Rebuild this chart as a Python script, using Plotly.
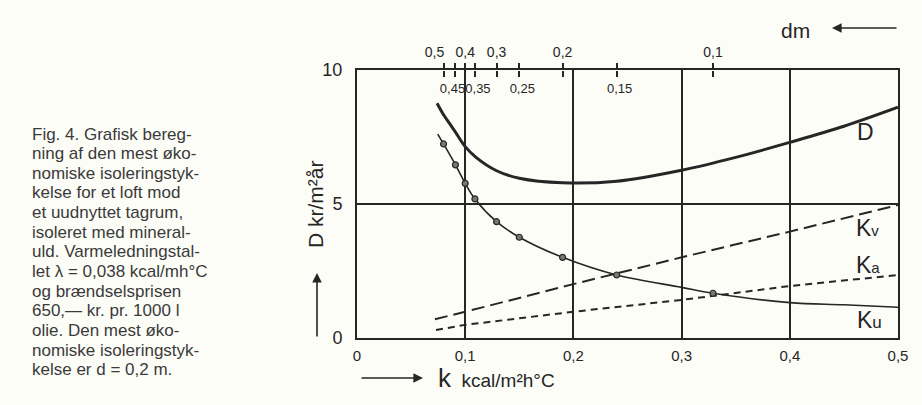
import plotly.graph_objects as go

# ---------------- data ----------------
k_ticks = [0, 0.1, 0.2, 0.3, 0.4, 0.5]
k_tick_labels = ["0", "0,1", "0,2", "0,3", "0,4", "0,5"]
y_ticks = [0, 5, 10]
y_tick_labels = ["0", "5", "10"]

# insulation thickness d (top axis) and corresponding k positions
d_labels = ["0,5", "0,45", "0,4", "0,35", "0,3", "0,25", "0,2", "0,15", "0,1"]
d_label_above = [True, False, True, False, True, False, True, False, True]
k_at_d = [0.080, 0.091, 0.100, 0.109, 0.129, 0.150, 0.190, 0.240, 0.329]
ku_at_d = [7.24, 6.46, 5.77, 5.19, 4.34, 3.76, 3.01, 2.35, 1.67]

ku_k = [0.0746, 0.080, 0.091, 0.100, 0.109, 0.129, 0.150, 0.190, 0.240, 0.300, 0.329, 0.400, 0.450, 0.500]
ku_v = [7.61, 7.24, 6.46, 5.77, 5.19, 4.34, 3.76, 3.01, 2.35, 1.89, 1.67, 1.32, 1.24, 1.15]

d_k = [0.074, 0.080, 0.086, 0.091, 0.100, 0.110, 0.129, 0.150, 0.190, 0.240, 0.300, 0.350, 0.400, 0.450, 0.500]
d_v = [8.76, 8.33, 7.98, 7.68, 7.14, 6.74, 6.24, 5.96, 5.79, 5.85, 6.26, 6.74, 7.30, 7.90, 8.61]

kv_k = [0.072, 0.1, 0.2, 0.3, 0.4, 0.5]
kv_v = [0.70, 0.98, 2.01, 3.01, 3.97, 4.96]

ka_k = [0.073, 0.1, 0.2, 0.3, 0.4, 0.5]
ka_v = [0.30, 0.49, 0.98, 1.42, 1.94, 2.35]

curve_labels = ["D", "K<span style='font-size:15px'>v</span>",
                "K<span style='font-size:15px'>a</span>", "K<span style='font-size:17px'>u</span>"]
curve_label_k = [0.4695, 0.472, 0.472, 0.474]
curve_label_v = [7.69, 4.10, 2.72, 0.67]

caption_lines = [
    "Fig. 4. Grafisk bereg-",
    "ning af den mest øko-",
    "nomiske isoleringstyk-",
    "kelse for et loft mod",
    "et uudnyttet tagrum,",
    "isoleret med mineral-",
    "uld. Varmeledningstal-",
    "let λ = 0,038 kcal/mh°C",
    "og brændselsprisen",
    "650,— kr. pr. 1000 l",
    "olie. Den mest øko-",
    "nomiske isoleringstyk-",
    "kelse er d = 0,2 m.",
]

# ---------------- styling ----------------
ink = "#262626"
bg = "#fdfdf8"
font_family = "Liberation Sans, Arial, sans-serif"
narrow_family = "Liberation Sans Narrow, Liberation Sans, Arial, sans-serif"

fig = go.Figure()

fig.add_trace(go.Scatter(x=kv_k, y=kv_v, mode="lines",
                         line=dict(color=ink, width=2, dash="13px,6px"), hoverinfo="skip"))
fig.add_trace(go.Scatter(x=ka_k, y=ka_v, mode="lines",
                         line=dict(color=ink, width=2, dash="7px,5px"), hoverinfo="skip"))
fig.add_trace(go.Scatter(x=ku_k, y=ku_v, mode="lines", line_shape="spline",
                         line=dict(color=ink, width=1.6), hoverinfo="skip"))
fig.add_trace(go.Scatter(x=d_k, y=d_v, mode="lines", line_shape="spline",
                         line=dict(color=ink, width=3), hoverinfo="skip"))
fig.add_trace(go.Scatter(x=k_at_d, y=ku_at_d, mode="markers", xaxis="x2",
                         marker=dict(size=6, color="#777", line=dict(color=ink, width=1.2)),
                         hoverinfo="skip"))
# invisible carriers so the extra label axes get drawn
for ax_id in ["x3", "x4", "x5"]:
    fig.add_trace(go.Scatter(x=k_at_d, y=ku_at_d, mode="markers", xaxis=ax_id,
                             marker=dict(size=1, color="rgba(0,0,0,0)"), hoverinfo="skip"))

annotations = []
for txt, kx, vy in zip(curve_labels, curve_label_k, curve_label_v):
    annotations.append(dict(x=kx, y=vy, xref="x", yref="y", text=txt, showarrow=False,
                            xanchor="center", yanchor="middle",
                            font=dict(size=23, color=ink, family=font_family)))

# caption text at left
line_step = 19.65
plot_h = 268.0
plot_w = 541.0
for i, line in enumerate(caption_lines):
    py = 134 + i * line_step
    annotations.append(dict(x=(30 - 357) / plot_w, y=(338 - py) / plot_h, xref="paper", yref="paper",
                            xanchor="left", yanchor="middle", text=line, showarrow=False,
                            font=dict(size=17, color="#3a3a3a", family=font_family)))

# axis titles with arrows
annotations += [
    dict(x=(315 - 357) / plot_w, y=(338 - 204) / plot_h, xref="paper", yref="paper",
         text="D kr/m²år", textangle=-90, xanchor="center", yanchor="middle",
         showarrow=False, font=dict(size=21, color=ink, family=font_family)),
    dict(x=(317 - 357) / plot_w, y=(338 - 273) / plot_h, xref="paper", yref="paper", text="",
         showarrow=True, ax=0, ay=65, arrowhead=2, arrowsize=1.2, arrowwidth=1.6, arrowcolor=ink),
    dict(x=(496 - 357) / plot_w, y=(338 - 378) / plot_h, xref="paper", yref="paper",
         text="<span style='font-size:26px'>k</span>  kcal/m²h°C", xanchor="center", yanchor="middle",
         showarrow=False, font=dict(size=19, color=ink, family=font_family)),
    dict(x=(423 - 357) / plot_w, y=(338 - 378) / plot_h, xref="paper", yref="paper", text="",
         showarrow=True, ax=-63, ay=0, arrowhead=2, arrowsize=1.2, arrowwidth=1.6, arrowcolor=ink),
    dict(x=(795 - 357) / plot_w, y=(338 - 30) / plot_h, xref="paper", yref="paper", text="dm",
         xanchor="center", yanchor="middle",
         showarrow=False, font=dict(size=21, color=ink, family=font_family)),
    dict(x=(832 - 357) / plot_w, y=(338 - 28) / plot_h, xref="paper", yref="paper", text="",
         showarrow=True, ax=66, ay=0, arrowhead=2, arrowsize=1.2, arrowwidth=1.6, arrowcolor=ink),
]

# label rows on the top (d) scale; the two left-most crowded labels sit on their own
# axes so they can be nudged sideways as in the drawing
first_above = d_labels[0]
first_below = d_labels[1]
above_main = [t if (a and t != first_above) else "" for t, a in zip(d_labels, d_label_above)]
above_first = [t if t == first_above else "" for t in d_labels]
below_main = [t if (not a and t != first_below) else "" for t, a in zip(d_labels, d_label_above)]
below_first = [t if t == first_below else "" for t in d_labels]

common = dict(overlaying="x", range=[0, 0.5], tickvals=k_at_d, tickangle=0,
              showgrid=False, zeroline=False, showline=False, automargin=False)
above_font = dict(size=14, color=ink, family=narrow_family)
below_font = dict(size=13, color=ink, family=narrow_family)

fig.update_layout(
    width=922, height=405,
    margin=dict(l=357, r=24, t=70, b=67, autoexpand=False),
    paper_bgcolor=bg, plot_bgcolor=bg,
    showlegend=False,
    font=dict(family=font_family, color=ink),
    xaxis=dict(range=[0, 0.5], tickvals=k_ticks, ticktext=k_tick_labels, tickangle=0,
               showgrid=True, gridcolor=ink, gridwidth=2, zeroline=False,
               showline=True, linecolor=ink, linewidth=2, mirror=True, automargin=False,
               ticks="outside", ticklen=3, tickcolor=bg, tickfont=dict(size=15, color=ink)),
    yaxis=dict(range=[0, 10], tickvals=y_ticks, ticktext=y_tick_labels,
               showgrid=True, gridcolor=ink, gridwidth=2, zeroline=False,
               showline=True, linecolor=ink, linewidth=2, mirror=True, automargin=False,
               ticks="outside", ticklen=9, tickcolor=bg, tickfont=dict(size=18, color=ink)),
    xaxis2=dict(side="top", ticktext=above_main, ticks="outside", ticklen=6, tickwidth=1.5,
                tickcolor=ink, tickfont=above_font, **common),
    xaxis4=dict(side="top", ticktext=above_first, ticks="outside", ticklen=6, tickwidth=1.5,
                tickcolor="rgba(0,0,0,0)", ticklabelshift=-9, tickfont=above_font, **common),
    xaxis3=dict(side="bottom", anchor="free", position=1.0, ticktext=below_main,
                ticks="outside", ticklen=6, tickwidth=1.5, tickcolor=ink, ticklabelshift=3,
                tickfont=below_font, **common),
    xaxis5=dict(side="bottom", anchor="free", position=1.0, ticktext=below_first,
                ticks="outside", ticklen=6, tickwidth=1.5, tickcolor="rgba(0,0,0,0)",
                ticklabelshift=-3, tickfont=below_font, **common),
    annotations=annotations,
)

fig.write_html("out.html", config={"displayModeBar": False},
               post_script="document.body.style.margin='0px';")
